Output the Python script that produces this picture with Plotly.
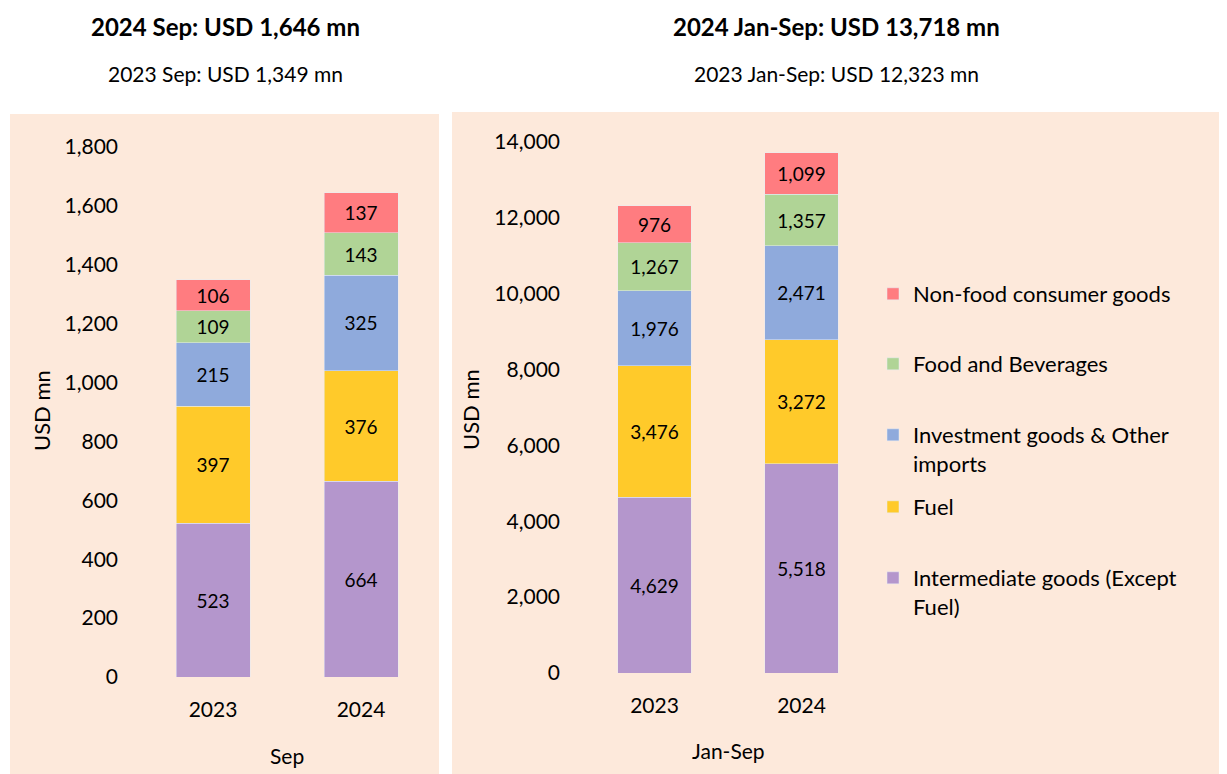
"""Imports by category: September and January-September, 2023 vs 2024."""

import plotly.graph_objects as go

# the page body keeps an 8px margin, so the figure is drawn 8px smaller
# and every position below is given in window pixels minus that offset
OFFSET = 8
W, H = 1227 - OFFSET, 774 - OFFSET

YEARS = ["2023", "2024"]
CATEGORIES = [
    "Intermediate goods (Except<br>Fuel)",
    "Fuel",
    "Investment goods & Other<br>imports",
    "Food and Beverages",
    "Non-food consumer goods",
]
COLORS = ["#B496CC", "#FFCA2A", "#8FAADC", "#B0D496", "#FF7C80"]

SEP_VALUES = [
    [523, 664],
    [397, 376],
    [215, 325],
    [109, 143],
    [106, 137],
]
JANSEP_VALUES = [
    [4629, 5518],
    [3476, 3272],
    [1976, 2471],
    [1267, 1357],
    [976, 1099],
]

FONT = "Lato, Calibri, Arial, sans-serif"
BG = "#FDE9DB"


def px_x(v):
    return (v - OFFSET) / W


def px_y(v):
    return 1 - (v - OFFSET) / H


fig = go.Figure()

legend_names = ["legend5", "legend4", "legend3", "legend2", "legend"]
for i, name in enumerate(CATEGORIES):
    fig.add_trace(go.Bar(
        x=YEARS, y=SEP_VALUES[i], name=name, marker_color=COLORS[i],
        texttemplate="%{y:,.0f}", textposition="inside", insidetextanchor="middle",
        constraintext="none", textfont=dict(size=19, color="#000000", family=FONT),
        showlegend=False, xaxis="x", yaxis="y", hoverinfo="skip",
    ))
for i, name in enumerate(CATEGORIES):
    fig.add_trace(go.Bar(
        x=YEARS, y=JANSEP_VALUES[i], name=name, marker_color=COLORS[i],
        texttemplate="%{y:,.0f}", textposition="inside", insidetextanchor="middle",
        constraintext="none", textfont=dict(size=19, color="#000000", family=FONT),
        showlegend=True, legend=legend_names[i], xaxis="x2", yaxis="y2", hoverinfo="skip",
    ))

axis_font = dict(size=21, color="#000000", family=FONT)
common_y = dict(showgrid=False, zeroline=False, showline=False, ticks="",
                tickformat=",", tickfont=axis_font, ticklabelstandoff=20,
                automargin=False)
common_x = dict(showgrid=False, showline=False, ticks="", tickfont=axis_font,
                ticklabelstandoff=18, type="category", range=[-0.5, 1.5],
                automargin=False)

# legend entries, spaced like the original (first text line top, in px)
legend_tops = [273, 343, 414, 486, 557]
legends = {}
for key, top in zip(["legend", "legend2", "legend3", "legend4", "legend5"], legend_tops):
    legends[key] = dict(
        x=px_x(873), y=px_y(top), xanchor="left", yanchor="top",
        bgcolor="rgba(0,0,0,0)", valign="top",
        font=dict(size=22, color="#000000", family=FONT),
    )

fig.update_layout(
    width=W, height=H, autosize=False,
    margin=dict(l=0, r=0, t=0, b=0, pad=0),
    paper_bgcolor="#FFFFFF", plot_bgcolor="rgba(0,0,0,0)",
    barmode="stack", bargap=0.5,
    font=dict(family=FONT, size=21, color="#000000"),
    xaxis=dict(domain=[px_x(139), px_x(435)], anchor="y", **common_x),
    yaxis=dict(domain=[px_y(677), px_y(147)], range=[0, 1800], dtick=200,
               anchor="x", **common_y),
    xaxis2=dict(domain=[px_x(581), px_x(875)], anchor="y2", **common_x),
    yaxis2=dict(domain=[px_y(673), px_y(142)], range=[0, 14000], dtick=2000,
                anchor="x2", **common_y),
    **legends,
)

# panel backgrounds
fig.add_shape(type="rect", xref="paper", yref="paper", layer="below",
              x0=px_x(10), x1=px_x(439), y0=0, y1=px_y(114),
              fillcolor=BG, line_width=0)
fig.add_shape(type="rect", xref="paper", yref="paper", layer="below",
              x0=px_x(452), x1=px_x(1219), y0=0, y1=px_y(112),
              fillcolor=BG, line_width=0)

texts = [
    ("<b>2024 Sep: USD 1,646 mn</b>", 225, 27, 24, 0),
    ("2023 Sep: USD 1,349 mn", 225, 73, 21, 0),
    ("<b>2024 Jan-Sep: USD 13,718 mn</b>", 836, 27, 24, 0),
    ("2023 Jan-Sep: USD 12,323 mn", 836, 73, 21, 0),
    ("USD mn", 41, 411, 22, -90),
    ("USD mn", 471, 410, 22, -90),
    ("Sep", 287, 755, 21, 0),
    ("Jan-Sep", 728, 750, 21, 0),
]
for text, x, y, size, angle in texts:
    fig.add_annotation(text=text, x=px_x(x), y=px_y(y), xref="paper", yref="paper",
                       showarrow=False, xanchor="center", yanchor="middle",
                       textangle=angle, font=dict(size=size, color="#000000", family=FONT))

fig.write_html("out.html")
